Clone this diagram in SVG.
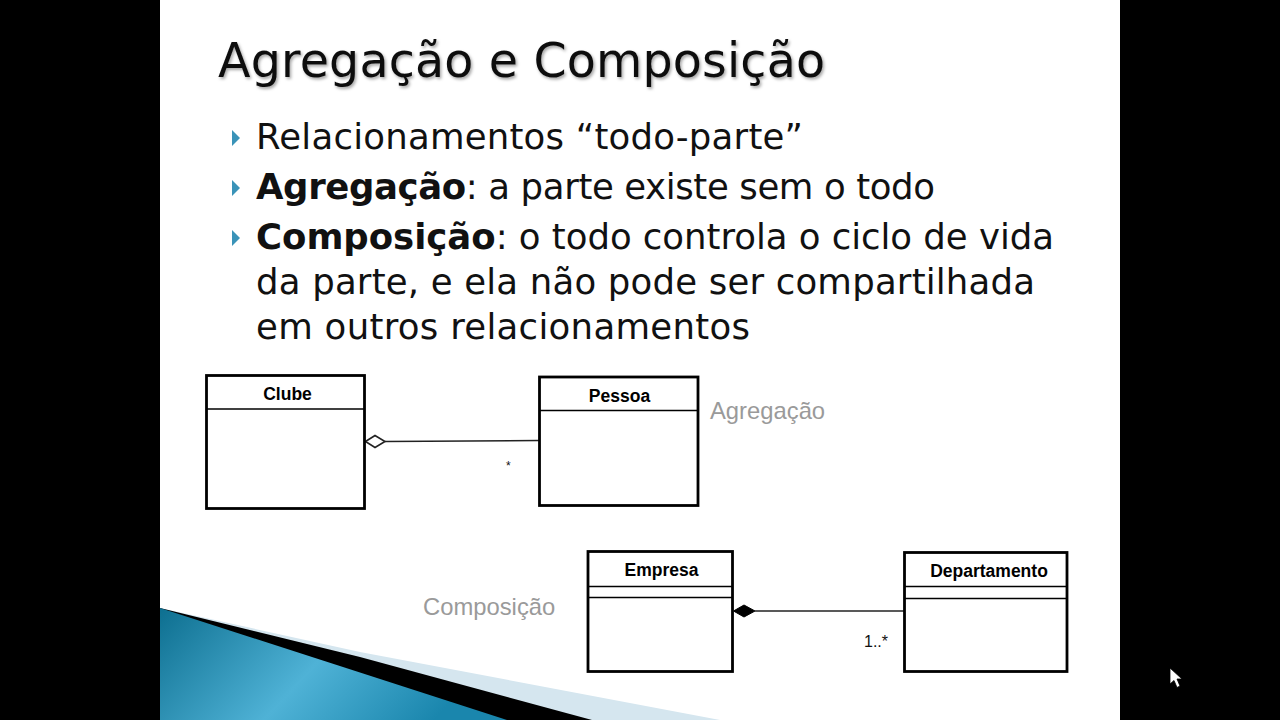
<svg xmlns="http://www.w3.org/2000/svg" width="1280" height="720" viewBox="0 0 1280 720">
<defs>
<style>
.title{font-family:"DejaVu Sans",sans-serif;font-size:47.5px;fill:#111}
.bul{font-family:"DejaVu Sans",sans-serif;font-size:35.5px;fill:#111}
.b{font-weight:bold}
.cls{font-family:"Liberation Sans",Arial,sans-serif;font-weight:bold;font-size:17.5px;fill:#000;text-anchor:middle}
.box{fill:#fff;stroke:#000;stroke-width:2.8}
.sep{stroke:#000;stroke-width:1.6}
.conn{stroke:#222;stroke-width:1.6;fill:none}
.lbl{font-family:"Liberation Sans",Arial,sans-serif;font-size:23.8px;fill:#9a9a9a}
.mult{font-family:"Liberation Sans",Arial,sans-serif;fill:#111}
.arrow{fill:#3a93b8}
</style>
<linearGradient id="blue" x1="0" y1="0" x2="1" y2="0.3">
<stop offset="0" stop-color="#0d6f90"/>
<stop offset="0.55" stop-color="#4fb2d6"/>
<stop offset="1" stop-color="#1a86ad"/>
</linearGradient>
<filter id="sh" x="-5%" y="-20%" width="110%" height="150%">
<feDropShadow dx="1.5" dy="2" stdDeviation="1.5" flood-color="#000" flood-opacity="0.35"/>
</filter>
</defs>
<rect x="0" y="0" width="1280" height="720" fill="#000"/>
<rect x="160" y="0" width="960" height="720" fill="#fff"/>
<g id="decor">
<path d="M160,608 L360,652 L720,720 L160,720 Z" fill="#d5e6ef"/>
<path d="M160,608 L360,657 L592,720 L160,720 Z" fill="#000"/>
<path d="M160,608 L507,720 L160,720 Z" fill="url(#blue)"/>
</g>
<g id="title">
<text class="title" x="218" y="77" textLength="607" lengthAdjust="spacing" filter="url(#sh)">Agregação e Composição</text>
</g>
<g id="bullets">
<path class="arrow" d="M232,130 L240,138 L232,146 Z"/>
<path class="arrow" d="M232,180 L240,188 L232,196 Z"/>
<path class="arrow" d="M232,230 L240,238 L232,246 Z"/>
<text class="bul" x="256" y="149" textLength="547" lengthAdjust="spacing">Relacionamentos “todo-parte”</text>
<text class="bul" x="256" y="199" textLength="679" lengthAdjust="spacing"><tspan class="b">Agregação</tspan>: a parte existe sem o todo</text>
<text class="bul" x="256" y="249" textLength="798" lengthAdjust="spacing"><tspan class="b">Composição</tspan>: o todo controla o ciclo de vida</text>
<text class="bul" x="256" y="294" textLength="779" lengthAdjust="spacing">da parte, e ela não pode ser compartilhada</text>
<text class="bul" x="256" y="339" textLength="494" lengthAdjust="spacing">em outros relacionamentos</text>
</g>
<g id="connectors">
<path class="conn" d="M385,441.5 L539,440.5"/>
<path d="M365.5,441.5 L375,435.5 L385,441.5 L375,447.5 Z" fill="#fff" stroke="#222" stroke-width="1.6"/>
<path class="conn" d="M755,611 L904,611"/>
<path d="M733.5,611 L744,605 L755,611 L744,617 Z" fill="#000" stroke="#000" stroke-width="1"/>
<text class="mult" x="506" y="470" font-size="12">*</text>
<text class="mult" x="864" y="647" font-size="16">1..*</text>
</g>
<g id="clube">
<rect class="box" x="206.5" y="375.5" width="158" height="133"/>
<line class="sep" x1="206.5" y1="409" x2="364.5" y2="409"/>
<text class="cls" x="287.5" y="400">Clube</text>
</g>
<g id="pessoa">
<rect class="box" x="539.5" y="377" width="158.5" height="128.5"/>
<line class="sep" x1="539.5" y1="410.5" x2="698" y2="410.5"/>
<text class="cls" x="619.5" y="401.5">Pessoa</text>
</g>
<g id="empresa">
<rect class="box" x="588" y="551.5" width="144.5" height="120"/>
<line class="sep" x1="588" y1="586.5" x2="732.5" y2="586.5"/>
<line class="sep" x1="588" y1="597.5" x2="732.5" y2="597.5"/>
<text class="cls" x="661.5" y="576" font-size="18.5">Empresa</text>
</g>
<g id="departamento">
<rect class="box" x="904.5" y="552.5" width="162.5" height="119"/>
<line class="sep" x1="904.5" y1="586.5" x2="1067" y2="586.5"/>
<line class="sep" x1="904.5" y1="598.5" x2="1067" y2="598.5"/>
<text class="cls" x="989" y="577" font-size="18.5">Departamento</text>
</g>
<g id="labels">
<text class="lbl" x="710" y="419">Agregação</text>
<text class="lbl" x="423" y="615">Composição</text>
</g>
<g id="cursor">
<path d="M1170,668 L1170,684 L1174,680.5 L1177,687.5 L1180,686 L1177,679 L1182,679 Z" fill="#fff" stroke="#000" stroke-width="0.8"/>
</g>
</svg>
